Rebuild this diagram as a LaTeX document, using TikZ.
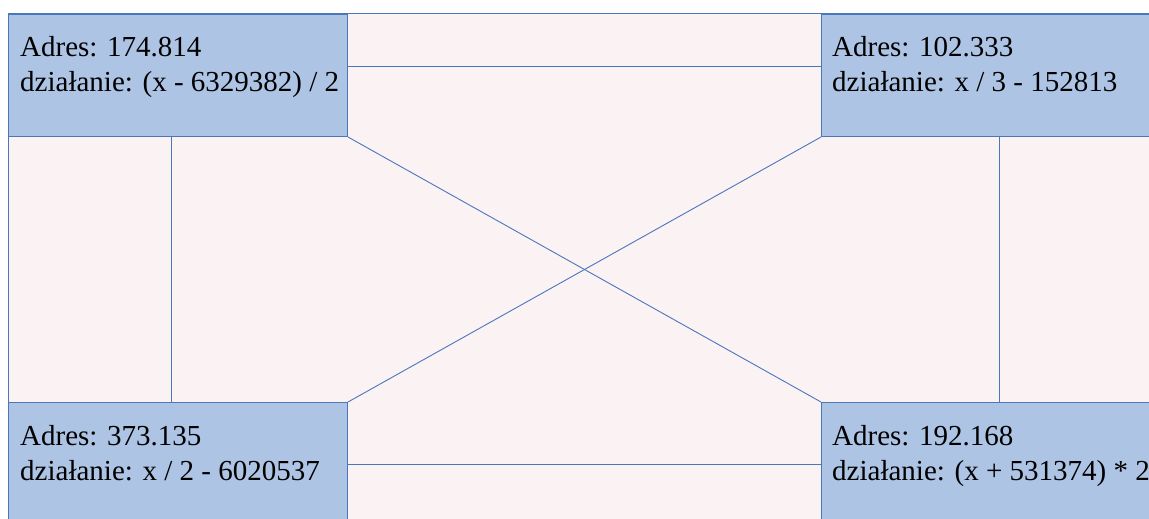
\documentclass[tikz,border=0pt]{standalone}
\usepackage{fontspec}
\setmainfont{Liberation Serif}
\definecolor{bgpink}{RGB}{251,242,243}
\definecolor{boxfill}{RGB}{174,196,229}
\definecolor{edge}{RGB}{74,118,188}
\tikzset{
  box/.style={draw=edge, fill=boxfill, line width=1pt, rectangle, anchor=north west, inner sep=0pt},
  wire/.style={draw=edge, line width=0.9pt},
  txt/.style={anchor=base west, inner sep=0pt, font=\fontsize{29}{35}\selectfont, text=black}
}
\begin{document}
\begin{tikzpicture}[x=1pt,y=-1pt]
\useasboundingbox (0,0) rectangle (1149,519);
\clip (0,0) rectangle (1149,519);
\fill[white] (0,0) rectangle (1149,519);
\draw[edge, fill=bgpink, line width=1pt] (8,14) rectangle (1200,600);
% connectors (drawn first, boxes cover ends)
\node[box, minimum width=339pt, minimum height=122pt] (tl) at (8,14) {};
\node[box, minimum width=360pt, minimum height=122pt] (tr) at (821,14) {};
\node[box, minimum width=339pt, minimum height=160pt] (bl) at (8,402) {};
\node[box, minimum width=360pt, minimum height=160pt] (br) at (821,402) {};
\draw[wire] ([yshift=-52pt]tl.north east) -- ([yshift=-52pt]tr.north west);
\draw[wire] ([yshift=-62pt]bl.north east) -- ([yshift=-62pt]br.north west);
\draw[wire] ([xshift=163pt]tl.south west) -- ([xshift=163pt]bl.north west);
\draw[wire] ([xshift=178pt]tr.south west) -- ([xshift=178pt]br.north west);
\draw[wire] (tl.south east) -- (br.north west);
\draw[wire] (tr.south west) -- (bl.north east);
% texts
\node[txt] (tl1) at (20,56.5) {Adres: 174.814};
\node[txt] (tl2) at (20,91.5) {działanie: (x - 6329382) / 2};
\node[txt] (tr1) at (832,56.5) {Adres: 102.333};
\node[txt] (tr2) at (832,91.5) {działanie: x / 3 - 152813};
\node[txt] (bl1) at (20,445.5) {Adres: 373.135};
\node[txt] (bl2) at (20,480.5) {działanie: x / 2 - 6020537};
\node[txt] (br1) at (832,445.5) {Adres: 192.168};
\node[txt] (br2) at (832,480.5) {działanie: (x + 531374) * 2};
\end{tikzpicture}
\end{document}
